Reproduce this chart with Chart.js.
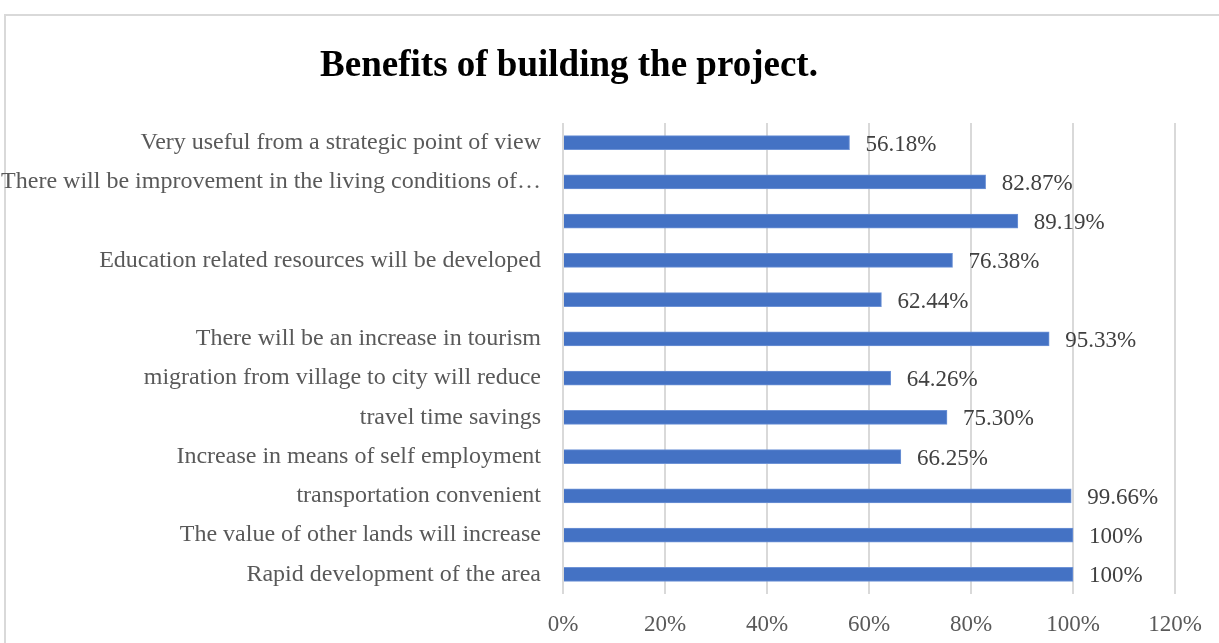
<!DOCTYPE html>
<html>
<head>
<meta charset="utf-8">
<script src="https://cdn.jsdelivr.net/npm/chart.js@4"></script>
<style>
  body { margin: 0; background: #fff; overflow: hidden; }
  #frame { position: absolute; left: 4px; top: 14px; width: 1240px; height: 660px; border: 2px solid #d9d9d9; box-sizing: border-box; }
  #wrap { position: absolute; left: 0; top: 0; width: 1219px; height: 643px; }
</style>
</head>
<body>
<div id="frame"></div>
<div id="wrap"><canvas id="benefitChart"></canvas></div>
<script>
// Categories, top to bottom as in the picture
const categories = [
  "Very useful from a strategic point of view",
  "There will be improvement in the living conditions of\u2026",
  "",
  "Education related resources will be developed",
  "",
  "There will be an increase in tourism",
  "migration from village to city will reduce",
  "travel time savings",
  "Increase in means of self employment",
  "transportation convenient",
  "The value of other lands will increase",
  "Rapid development of the area"
];
// Percent of respondents
const values = [56.18, 82.87, 89.19, 76.38, 62.44, 95.33, 64.26, 75.30, 66.25, 99.66, 100, 100];
const xTicks = [0, 20, 40, 60, 80, 100, 120];
const chartTitle = "Benefits of building the project.";

const serif = "'Liberation Serif', 'Times New Roman', serif";

function fmt(v) {
  return Number.isInteger(v) ? v + "%" : v.toFixed(2) + "%";
}

// title drawn by hand so it can sit a bit left of centre like the original
const titlePlugin = {
  id: "titlePlugin",
  afterDraw(chart) {
    const ctx = chart.ctx;
    ctx.save();
    ctx.font = "bold 37px " + serif;
    ctx.fillStyle = "#000";
    ctx.textAlign = "center";
    ctx.textBaseline = "middle";
    ctx.fillText(chartTitle, 569, 66);
    ctx.restore();
  }
};

// value text to the right of each bar
const valueLabels = {
  id: "valueLabels",
  afterDatasetsDraw(chart) {
    const ctx = chart.ctx;
    const meta = chart.getDatasetMeta(0);
    ctx.save();
    ctx.font = "23px " + serif;
    ctx.fillStyle = "#404040";
    ctx.textAlign = "left";
    ctx.textBaseline = "middle";
    meta.data.forEach((bar, i) => {
      ctx.fillText(fmt(values[i]), bar.x + 16, bar.y + 2);
    });
    ctx.restore();
  }
};

const ctx = document.getElementById("benefitChart").getContext("2d");
new Chart(ctx, {
  type: "bar",
  data: {
    labels: categories,
    datasets: [{
      data: values,
      backgroundColor: "#4472c4",
      borderColor: "#6e93d6",
      borderWidth: 1,
      barThickness: 14
    }]
  },
  options: {
    indexAxis: "y",
    responsive: true,
    maintainAspectRatio: false,
    animation: false,
    layout: { padding: { left: 0, right: 44, top: 123, bottom: 7 } },
    plugins: {
      legend: { display: false },
      tooltip: { enabled: false },
      title: { display: false }
    },
    scales: {
      x: {
        min: 0,
        max: 120,
        afterBuildTicks: (scale) => { scale.ticks = xTicks.map(v => ({ value: v })); },
        afterFit: (scale) => { scale.height = 42; },
        ticks: {
          callback: (v) => v + "%",
          color: "#595959",
          font: { family: serif, size: 23 },
          padding: 17,
          maxRotation: 0
        },
        grid: { color: "#d9d9d9", lineWidth: 2, drawTicks: false },
        border: { display: false }
      },
      y: {
        afterFit: (scale) => { scale.width = 563; },
        ticks: {
          color: "#595959",
          font: { family: serif, size: 24 },
          padding: 22,
          autoSkip: false
        },
        grid: { display: false, drawTicks: false },
        border: { display: false }
      }
    }
  },
  plugins: [valueLabels, titlePlugin]
});
</script>
</body>
</html>
